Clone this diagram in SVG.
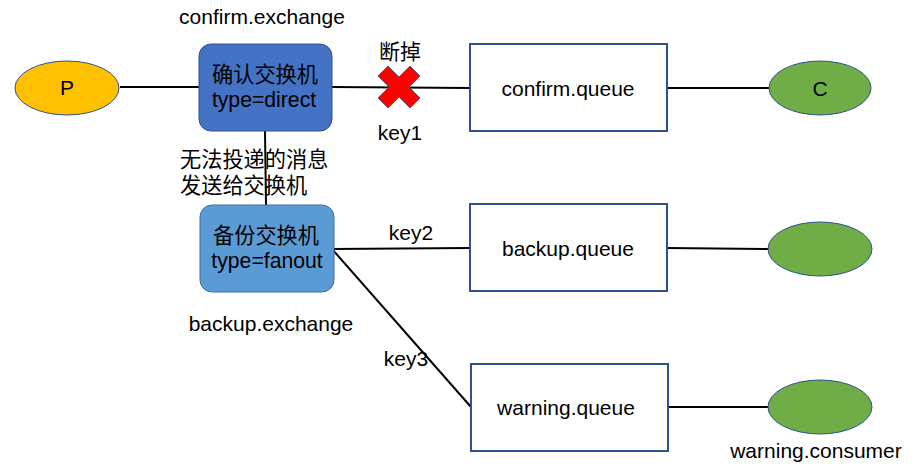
<svg xmlns="http://www.w3.org/2000/svg" width="913" height="466" viewBox="0 0 913 466">
<style>
text{font-family:"Liberation Sans","Noto Sans CJK SC",sans-serif;fill:#000;}
.lbl{font-size:21px;}
.cn{font-size:21.2px;}
.conn{stroke:#000;stroke-width:2;fill:none;}
.q{fill:#fff;stroke:#2F528F;stroke-width:2;}
.cons{fill:#70AD47;stroke:#2F528F;stroke-width:1;}
</style>
<rect width="913" height="466" fill="#fff"/>
<g id="connectors">
<line class="conn" x1="120" y1="87" x2="199" y2="87"/>
<line class="conn" x1="332" y1="87" x2="470" y2="88"/>
<line class="conn" x1="667" y1="88" x2="769" y2="88"/>
<line class="conn" x1="265" y1="131" x2="266" y2="205"/>
<line class="conn" x1="332" y1="249" x2="470" y2="248"/>
<line class="conn" x1="667" y1="248" x2="769" y2="249"/>
<line class="conn" x1="332" y1="249" x2="471" y2="407"/>
<line class="conn" x1="668" y1="407" x2="769" y2="407"/>
<text class="lbl" x="400" y="59" text-anchor="middle">断掉</text>
<text class="lbl" x="400" y="140" text-anchor="middle">key1</text>
<text class="lbl" x="411" y="240" text-anchor="middle">key2</text>
<text class="lbl" x="406" y="366" text-anchor="middle">key3</text>
<text class="cn" x="180" y="167">无法投递的消息</text>
<text class="cn" x="180" y="193">发送给交换机</text>
</g>
<g id="cut">
<path d="M378 76 L388 66 L399 77 L410 66 L420 76 L409 87 L420 98 L410 108 L399 97 L388 108 L378 98 L389 87 Z" fill="#FF0000" stroke="#2F528F" stroke-width="0.8"/>
</g>
<g id="P">
<ellipse cx="67" cy="88" rx="52" ry="27" fill="#FFC000" stroke="#2F528F" stroke-width="1"/>
<text class="lbl" x="67" y="95" text-anchor="middle">P</text>
</g>
<g id="confirmExchange">
<text class="lbl" x="262" y="24" text-anchor="middle">confirm.exchange</text>
<rect x="199" y="44" width="133" height="87" rx="12" fill="#4472C4" stroke="#2F528F" stroke-width="1"/>
<text class="cn" x="265" y="82" text-anchor="middle">确认交换机</text>
<text class="cn" x="264" y="107" text-anchor="middle">type=direct</text>
</g>
<g id="confirmQueue">
<rect class="q" x="470" y="44" width="197" height="87"/>
<text class="lbl" x="568" y="96" text-anchor="middle">confirm.queue</text>
</g>
<g id="C">
<ellipse class="cons" cx="820" cy="88" rx="51" ry="27"/>
<text class="lbl" x="820" y="96" text-anchor="middle">C</text>
</g>
<g id="backupExchange">
<rect x="200" y="205" width="134" height="87" rx="12" fill="#5B9BD5" stroke="#41719C" stroke-width="1"/>
<text class="cn" x="266" y="243" text-anchor="middle">备份交换机</text>
<text class="cn" x="267" y="268" text-anchor="middle">type=fanout</text>
<text class="lbl" x="271" y="331" text-anchor="middle">backup.exchange</text>
</g>
<g id="backupQueue">
<rect class="q" x="470" y="204" width="197" height="87"/>
<text class="lbl" x="568" y="256" text-anchor="middle">backup.queue</text>
</g>
<g id="backupConsumer">
<ellipse class="cons" cx="820" cy="249" rx="52" ry="27"/>
</g>
<g id="warningQueue">
<rect class="q" x="471" y="364" width="197" height="87"/>
<text class="lbl" x="566" y="415" text-anchor="middle">warning.queue</text>
</g>
<g id="warningConsumer">
<ellipse class="cons" cx="820" cy="407" rx="52" ry="27"/>
<text class="lbl" x="816" y="458" text-anchor="middle">warning.consumer</text>
</g>
</svg>
